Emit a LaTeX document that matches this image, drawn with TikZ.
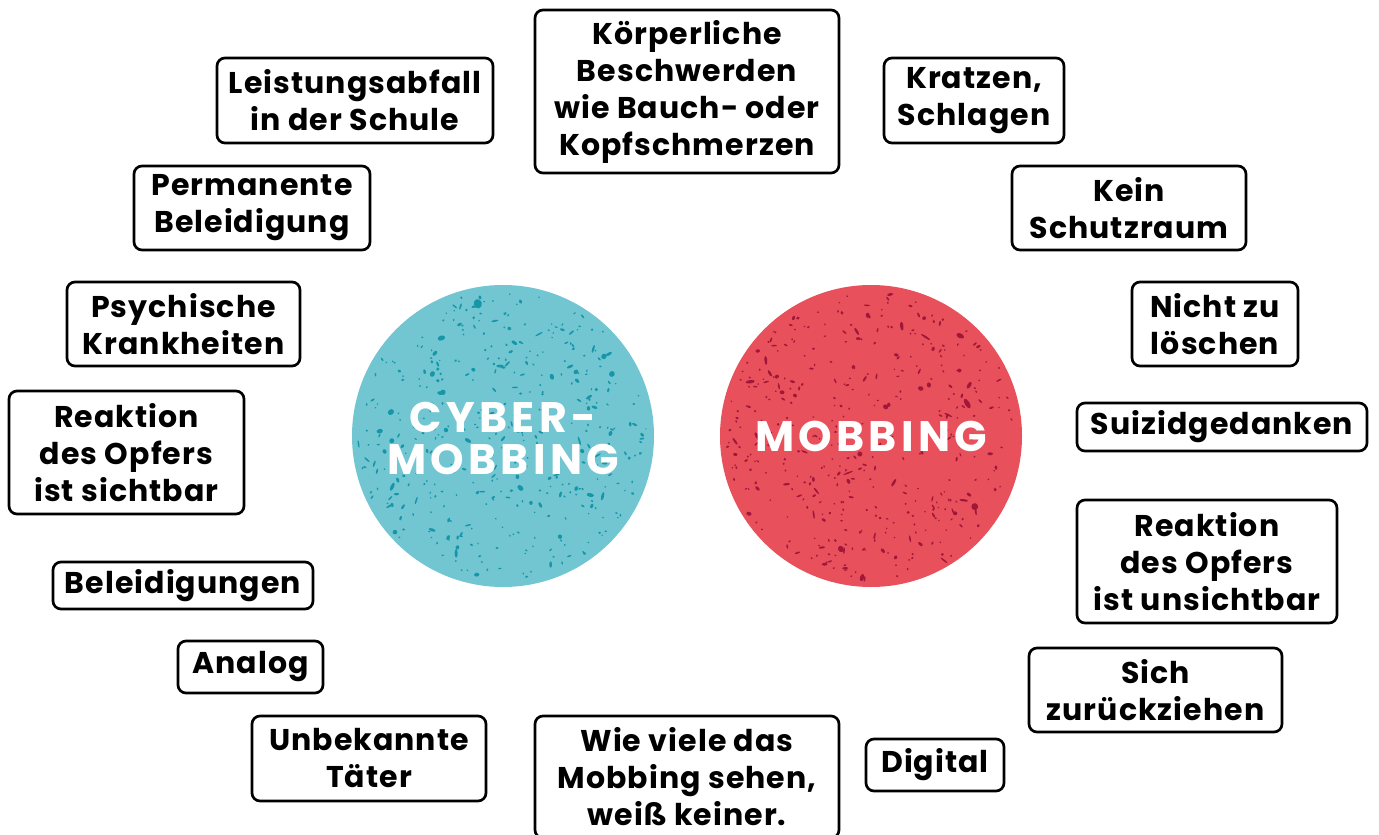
\documentclass[tikz,border=0pt]{standalone}
\usepackage{fontspec}
\setmainfont{Poppins}[LetterSpace=3.5]
\newfontfamily\discfont{Poppins}[LetterSpace=10]
\usepackage{xcolor}
\usepackage{tikz}
\usetikzlibrary{positioning}

\definecolor{cyanfill}{HTML}{72C6D2}
\definecolor{cyanspot}{HTML}{1597A8}
\definecolor{redfill}{HTML}{E8505B}
\definecolor{redspot}{HTML}{A0173A}

\begin{document}
\begin{tikzpicture}[x=0.75pt, y=-0.75pt,
  box/.style={draw, line width=2pt, rounded corners=6pt, align=center, inner sep=0pt,
              font=\fontsize{22.5}{27.75}\selectfont\bfseries},
  disc/.style={circle, minimum size=226.5pt, inner sep=0pt},
  disctext/.style={text=white, align=center,
                   font=\discfont\fontsize{32}{31.5}\selectfont\bfseries}]
\useasboundingbox (0,0) rectangle (1379,835);

% the two discs with their speckles
\node[disc, fill=cyanfill] (cyber) at (503,436) {};
\node[disc, fill=redfill]  (mob)   at (871,436) {};
\pgfmathsetseed{4711}
\foreach \c/\col in {cyber/cyanspot, mob/redspot}{
  \foreach \i in {1,...,420}{
    \pgfmathsetmacro\ang{360*rnd}
    \pgfmathsetmacro\rad{145*sqrt(rnd)}
    \pgfmathsetmacro\ra{0.6+4.2*rnd*rnd*rnd}
    \pgfmathsetmacro\rb{0.6+3.0*rnd*rnd*rnd}
    \pgfmathsetmacro\rot{180*rnd}
    \fill[\col] (\c.center) ++(\ang:\rad) ellipse [x radius=\ra pt, y radius=\rb pt, rotate=\rot];
  }
}
\node[disctext] (cybert) at ([yshift=-2pt]cyber.center) {CYBER-\\MOBBING};
\node[disctext] (mobt)   at (mob)   {MOBBING};

% left column
\node[box, minimum width=207pt, minimum height=63.75pt] (leist) at (355,100.5) {Leistungsabfall\\in der Schule};
\node[box, minimum width=177pt, minimum height=63pt]    (perm)  at (252,208)   {Permanente\\Beleidigung};
\node[box, minimum width=174.75pt, minimum height=63pt] (psych) at (183.5,324) {Psychische\\Krankheiten};
\node[box, minimum width=176.25pt, minimum height=92.25pt] (sicht) at (126.5,452.5) {Reaktion\\des Opfers\\ist sichtbar};
\node[box, minimum width=195pt, minimum height=35.25pt] (bel)   at (183,585.5) {Beleidigungen};
\node[box, minimum width=108.75pt, minimum height=39pt] (analog) at (250.5,667) {Analog};
\node[box, minimum width=175.5pt, minimum height=63.75pt] (taeter) at (369,758.5) {Unbekannte\\Täter};

% top and bottom
\node[box, minimum width=228pt, minimum height=122.25pt] (koerp) at (687,91.5) {Körperliche\\Beschwerden\\wie Bauch- oder\\Kopfschmerzen};
\node[box, minimum width=228pt, minimum height=91.5pt]   (viele) at (687,777)  {Wie viele das\\Mobbing sehen,\\weiß keiner.};

% right column
\node[box, minimum width=135pt, minimum height=63.75pt] (kratz) at (974,100.5) {Kratzen,\\Schlagen};
\node[box, minimum width=175.5pt, minimum height=63pt]  (schutz) at (1129,208) {Kein\\Schutzraum};
\node[box, minimum width=124.5pt, minimum height=63pt]  (loesch) at (1215,324) {Nicht zu\\löschen};
\node[box, minimum width=217.5pt, minimum height=36pt]  (suizid) at (1222,427) {Suizidgedanken};
\node[box, minimum width=195pt, minimum height=92.25pt] (unsicht) at (1207,561.5) {Reaktion\\des Opfers\\ist unsichtbar};
\node[box, minimum width=189.75pt, minimum height=63pt] (rueck) at (1155.5,690) {Sich\\zurückziehen};
\node[box, minimum width=103.5pt, minimum height=39pt]  (digital) at (935,765) {Digital};
\end{tikzpicture}
\end{document}
